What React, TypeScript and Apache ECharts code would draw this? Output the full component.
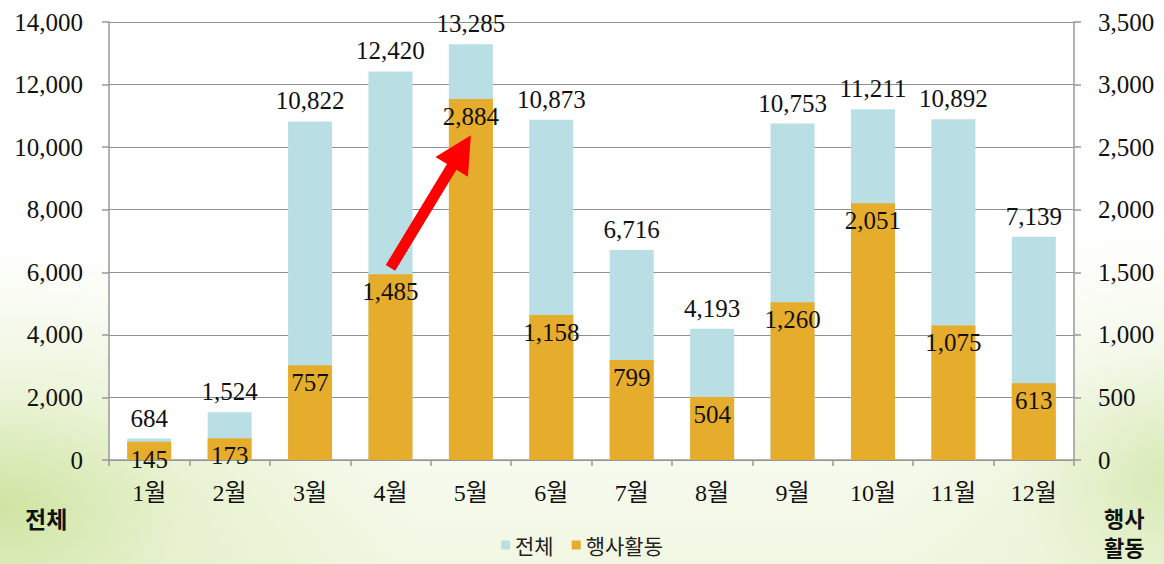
import React, { useEffect, useRef } from "react";
import * as echarts from "echarts";

const months = ["1월", "2월", "3월", "4월", "5월", "6월", "7월", "8월", "9월", "10월", "11월", "12월"];
const totalValues = [684, 1524, 10822, 12420, 13285, 10873, 6716, 4193, 10753, 11211, 10892, 7139];
const eventValues = [145, 173, 757, 1485, 2884, 1158, 799, 504, 1260, 2051, 1075, 613];
const leftTicks = { min: 0, max: 14000, interval: 2000 };
const rightTicks = { min: 0, max: 3500, interval: 500 };
// arrow annotation: from (category index, right-axis value) to (category index, right-axis value)
const arrowFrom = [3, 1535];
const arrowTo = [3.94, 2595];

const SERIF = '"Liberation Serif", "Noto Sans CJK KR", serif';
const SANS = '"Noto Sans CJK KR", "Noto Sans", sans-serif';

export default function App() {
  const ref = useRef<HTMLDivElement>(null);
  useEffect(() => {
    const el = ref.current;
    if (!el) return;
    const chart = echarts.init(el, undefined, { renderer: "svg" });
    const fmt = (v: number) => v.toLocaleString("en-US");
    chart.setOption({
      animation: false,
      backgroundColor: "transparent",
      grid: {
        left: 109,
        right: 90,
        top: 22,
        bottom: 104,
        show: true,
        backgroundColor: "#ffffff",
        borderWidth: 0,
      },
      legend: {
        data: ["전체", "행사활동"],
        left: "center",
        top: 530,
        padding: [3, 5],
        itemWidth: 9,
        itemHeight: 9,
        itemGap: 18,
        icon: "rect",
        textStyle: { fontFamily: SANS, fontSize: 21, lineHeight: 24, color: "#222" },
      },
      xAxis: {
        type: "category",
        data: months,
        axisLine: { lineStyle: { color: "#999", width: 1.5 } },
        axisTick: { show: true, length: 6, lineStyle: { color: "#999", width: 1.5 } },
        axisLabel: { fontFamily: SERIF, fontSize: 24, color: "#111", margin: 21 },
      },
      yAxis: [
        {
          type: "value",
          ...leftTicks,
          axisLine: { show: true, lineStyle: { color: "#999", width: 1.5 } },
          axisTick: { show: true, length: 7, lineStyle: { color: "#999", width: 1.5 } },
          splitLine: { show: true, lineStyle: { color: "#8f8f8f", width: 1 } },
          axisLabel: { fontFamily: SERIF, fontSize: 25, color: "#111", margin: 26, formatter: fmt },
        },
        {
          type: "value",
          ...rightTicks,
          position: "right",
          axisLine: { show: true, lineStyle: { color: "#999", width: 1.5 } },
          axisTick: { show: true, length: 7, lineStyle: { color: "#999", width: 1.5 } },
          splitLine: { show: false },
          axisLabel: { fontFamily: SERIF, fontSize: 25, color: "#111", margin: 24, formatter: fmt },
        },
      ],
      series: [
        {
          name: "전체",
          type: "bar",
          yAxisIndex: 0,
          data: totalValues,
          barWidth: 44,
          barGap: "-100%",
          itemStyle: { color: "#b9dfe4" },
          label: {
            show: true,
            position: "top",
            distance: 8,
            fontFamily: SERIF,
            fontSize: 25,
            color: "#111",
            formatter: (p: any) => fmt(p.value),
          },
        },
        {
          name: "행사활동",
          type: "bar",
          yAxisIndex: 1,
          data: eventValues,
          barWidth: 44,
          barGap: "-100%",
          itemStyle: { color: "#e6ad2d" },
          label: {
            show: true,
            position: "insideTop",
            distance: 5,
            fontFamily: SERIF,
            fontSize: 25,
            color: "#111",
            formatter: (p: any) => fmt(p.value),
          },
        },
      ],
    });

    const a = chart.convertToPixel({ xAxisIndex: 0, yAxisIndex: 1 }, arrowFrom) as number[];
    const b = chart.convertToPixel({ xAxisIndex: 0, yAxisIndex: 1 }, arrowTo) as number[];
    const dx = b[0] - a[0];
    const dy = b[1] - a[1];
    const len = Math.sqrt(dx * dx + dy * dy);
    const ux = dx / len, uy = dy / len;
    const nx = -uy, ny = ux;
    const shaftW = 11, headW = 38, headL = 37;
    const bx = b[0] - ux * headL, by = b[1] - uy * headL;
    const pts = [
      [a[0] + nx * shaftW / 2, a[1] + ny * shaftW / 2],
      [bx + nx * shaftW / 2, by + ny * shaftW / 2],
      [bx + nx * headW / 2, by + ny * headW / 2],
      [b[0], b[1]],
      [bx - nx * headW / 2, by - ny * headW / 2],
      [bx - nx * shaftW / 2, by - ny * shaftW / 2],
      [a[0] - nx * shaftW / 2, a[1] - ny * shaftW / 2],
    ];

    chart.setOption({
      graphic: [
        {
          type: "polygon",
          shape: { points: pts },
          style: { fill: "#ff0000" },
          z: 100,
        },
        {
          type: "text",
          left: 25,
          top: 506,
          style: { text: "전체", font: `bold 23px ${SANS}`, fill: "#111" },
        },
        {
          type: "text",
          left: 1104,
          top: 506,
          style: { text: "행사", font: `bold 22px ${SANS}`, fill: "#111" },
        },
        {
          type: "text",
          left: 1104,
          top: 535,
          style: { text: "활동", font: `bold 22px ${SANS}`, fill: "#111" },
        },
      ],
    });

    return () => chart.dispose();
  }, []);

  return (
    <div
      style={{
        position: "fixed",
        left: 0,
        top: 0,
        width: 1164,
        height: 564,
        background:
          "radial-gradient(ellipse 420px 260px at 0% 90%, rgba(200,225,150,0.85) 0%, rgba(220,235,185,0.5) 45%, rgba(255,255,255,0) 100%), radial-gradient(ellipse 300px 260px at 100% 85%, rgba(210,230,170,0.8) 0%, rgba(230,240,205,0.4) 50%, rgba(255,255,255,0) 100%), linear-gradient(to bottom, #ffffff 60%, #f1f7e2 100%)",
      }}
    >
      <div ref={ref} style={{ width: 1164, height: 564 }} />
    </div>
  );
}
